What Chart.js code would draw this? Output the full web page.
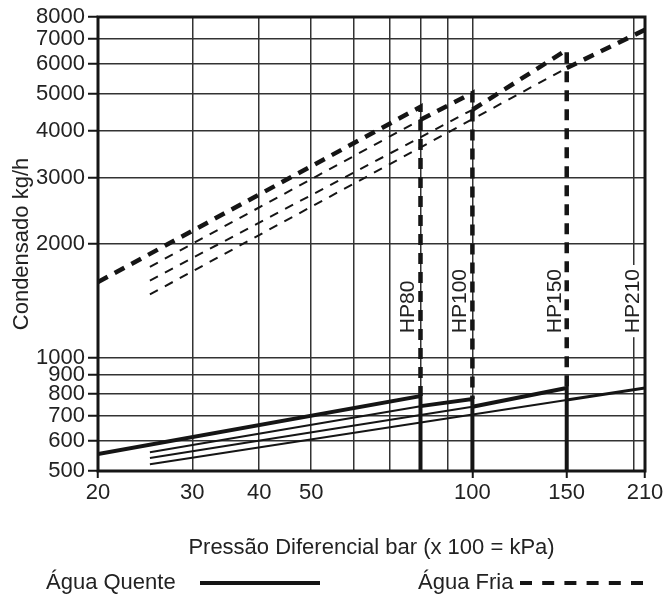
<!DOCTYPE html>
<html>
<head>
<meta charset="utf-8">
<script src="https://cdn.jsdelivr.net/npm/chart.js@4.4.1/dist/chart.umd.min.js"></script>
<style>
  html, body { margin: 0; padding: 0; background: #fff; }
  #wrap { width: 671px; height: 602px; }
</style>
</head>
<body>
<div id="wrap"><canvas id="grafico" width="671" height="602"></canvas></div>
<script>
// modelos e limites de pressao (bar)
var modelos = ['HP80', 'HP100', 'HP150', 'HP210'];
var pressaoInicio = [20, 25, 25, 25];
var pressaoLimite = [80, 100, 150, 210];

// agua quente (kg/h): inicio, no limite do modelo anterior, no limite do modelo
var quenteInicio = [555, 561, 541, 521];
var quenteLimiteAnterior = [null, 743, 740, 771];
var quenteLimite = [790, 776, 830, 830];

// agua fria (kg/h)
var friaInicio = [1585, 1740, 1600, 1470];
var friaLimiteAnterior = [null, 4270, 4540, 5860];
var friaLimite = [4620, 5030, 6545, 7400];

var ticksX = [20, 30, 40, 50, 60, 70, 80, 90, 100, 150, 200, 210];
var rotulosX = [20, 30, 40, 50, 100, 150, 210];
var marcasX = [20, 100, 150, 210];
var ticksY = [500, 600, 700, 800, 900, 1000, 2000, 3000, 4000, 5000, 6000, 7000, 8000];

var FONTE = '"Liberation Sans", Arial, sans-serif';
var PRETO = '#151515';

function serie(pontos, largura, tracejado) {
    return {
        data: pontos.map(function (p) { return { x: p[0], y: p[1] }; }),
        borderColor: PRETO,
        borderWidth: largura,
        borderDash: tracejado || [],
        borderCapStyle: 'butt',
        borderJoinStyle: 'miter',
        pointRadius: 0,
        fill: false,
        tension: 0
    };
}

function montarSeries() {
    var lista = [];
    var base = ticksY[0];
    for (var i = 0; i < modelos.length; i++) {
        var lim = pressaoLimite[i];
        var ultimo = i === modelos.length - 1;
        var q, f;
        if (i === 0) {
            q = [[pressaoInicio[i], quenteInicio[i]], [lim, quenteLimite[i]]];
            f = [[pressaoInicio[i], friaInicio[i]], [lim, friaLimite[i]]];
        } else {
            var ant = pressaoLimite[i - 1];
            lista.push(serie([[pressaoInicio[i], quenteInicio[i]], [ant, quenteLimiteAnterior[i]]], 2));
            lista.push(serie([[pressaoInicio[i], friaInicio[i]], [ant, friaLimiteAnterior[i]]], 2, [9, 8]));
            q = [[ant, quenteLimiteAnterior[i]], [lim, quenteLimite[i]]];
            f = [[ant, friaLimiteAnterior[i]], [lim, friaLimite[i]]];
        }
        if (!ultimo) {
            q.push([lim, base]);
            f.push([lim, quenteLimite[i]]);
        }
        lista.push(serie(q, ultimo ? 3 : 4));
        lista.push(serie(f, 4.5, [11, 8]));
    }
    return lista;
}

var extras = {
    id: 'extras',
    beforeDatasetsDraw: function (chart) {
        var ctx = chart.ctx;
        var xs = chart.scales.x, ys = chart.scales.y;
        ctx.save();
        ctx.font = '21px ' + FONTE;
        modelos.forEach(function (m, i) {
            var px = xs.getPixelForValue(pressaoLimite[i]) - 13;
            var py = ys.getPixelForValue(1160);
            var w = ctx.measureText(m).width;
            ctx.setTransform(1, 0, 0, 1, 0, 0);
            ctx.translate(px, py);
            ctx.rotate(-Math.PI / 2);
            ctx.fillStyle = '#fff';
            ctx.fillRect(-4, -9, w + 8, 18);
            ctx.fillStyle = '#222';
            ctx.textAlign = 'left';
            ctx.textBaseline = 'middle';
            ctx.fillText(m, 0, 1);
        });
        ctx.restore();
    },
    afterDraw: function (chart) {
        var ctx = chart.ctx;
        var a = chart.chartArea;
        ctx.save();
        ctx.strokeStyle = PRETO;
        ctx.lineWidth = 3;
        ctx.strokeRect(a.left, a.top, a.right - a.left, a.bottom - a.top);

        // legenda
        var yl = 583;
        ctx.font = '22px ' + FONTE;
        ctx.fillStyle = '#222';
        ctx.textBaseline = 'middle';
        ctx.textAlign = 'left';
        ctx.fillText('Água Quente', 46, yl);
        ctx.fillText('Água Fria', 418, yl);
        ctx.lineWidth = 4;
        ctx.beginPath();
        ctx.moveTo(200, yl);
        ctx.lineTo(320, yl);
        ctx.stroke();
        ctx.setLineDash([12, 10.2]);
        ctx.beginPath();
        ctx.moveTo(520, yl);
        ctx.lineTo(643, yl);
        ctx.stroke();
        ctx.restore();
    }
};

new Chart(document.getElementById('grafico'), {
    type: 'line',
    data: { datasets: montarSeries() },
    options: {
        responsive: false,
        animation: false,
        layout: { padding: { top: 17, right: 26, bottom: 41, left: 0 } },
        plugins: {
            legend: { display: false },
            tooltip: { enabled: false }
        },
        scales: {
            x: {
                type: 'logarithmic',
                min: 20,
                max: 210,
                afterFit: function (s) { s.height = 90; },
                afterBuildTicks: function (s) {
                    s.ticks = ticksX.map(function (v) { return { value: v }; });
                },
                border: { display: false },
                grid: {
                    lineWidth: 1.5,
                    tickLength: 7,
                    tickWidth: 2,
                    color: function (c) {
                        return c.tick && c.tick.value === 150 ? 'rgba(0,0,0,0)' : '#333';
                    },
                    tickColor: function (c) {
                        return c.tick && marcasX.indexOf(c.tick.value) >= 0 ? PRETO : 'rgba(0,0,0,0)';
                    }
                },
                ticks: {
                    autoSkip: false,
                    maxRotation: 0,
                    color: '#222',
                    padding: 2,
                    font: { family: FONTE, size: 22 },
                    callback: function (v) {
                        return rotulosX.indexOf(v) >= 0 ? String(v) : '';
                    }
                },
                title: {
                    display: true,
                    text: 'Pressão Diferencial bar (x 100 = kPa)',
                    color: '#222',
                    padding: { top: 0, bottom: 0 },
                    font: { family: FONTE, size: 22 }
                }
            },
            y: {
                type: 'logarithmic',
                min: 500,
                max: 8000,
                afterFit: function (s) { s.width = 98; },
                afterBuildTicks: function (s) {
                    s.ticks = ticksY.map(function (v) { return { value: v }; });
                },
                border: { display: false },
                grid: {
                    lineWidth: 1.5,
                    tickLength: 10,
                    tickWidth: 2,
                    color: '#333',
                    tickColor: PRETO
                },
                ticks: {
                    autoSkip: false,
                    color: '#222',
                    padding: 3,
                    font: { family: FONTE, size: 22 },
                    callback: function (v) { return String(v); }
                },
                title: {
                    display: true,
                    text: 'Condensado kg/h',
                    color: '#222',
                    padding: { top: 9, bottom: 0 },
                    font: { family: FONTE, size: 22 }
                }
            }
        }
    },
    plugins: [extras]
});
</script>
</body>
</html>
